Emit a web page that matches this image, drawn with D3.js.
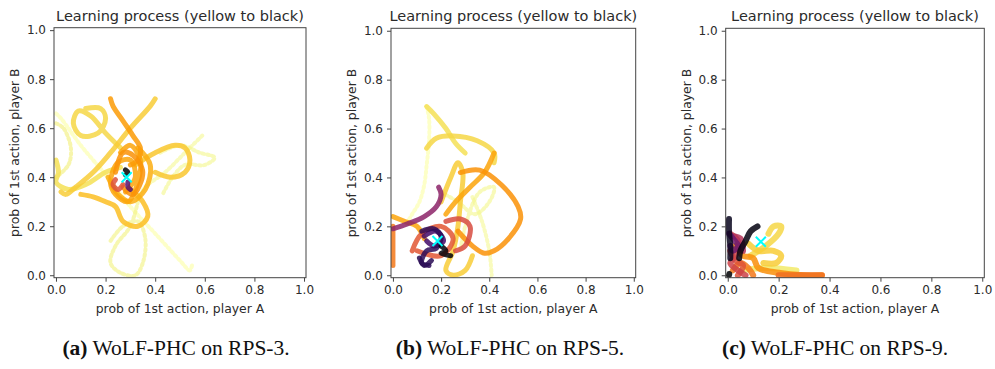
<!DOCTYPE html>
<html>
<head>
<meta charset="utf-8">
<script src="https://cdn.jsdelivr.net/npm/d3@7"></script>
<style>
  body { margin: 0; background: #fff; }
  svg { display: block; }
</style>
</head>
<body>
<svg id="fig" width="995" height="369"></svg>
<script>
// tick values shared by all panels
var tickValues = [0, 0.2, 0.4, 0.6, 0.8, 1.0];
var titles = ["Learning process (yellow to black)", "Learning process (yellow to black)", "Learning process (yellow to black)"];
var captionTags = ["(a)", "(b)", "(c)"];
var captionTexts = [" WoLF-PHC on RPS-3.", " WoLF-PHC on RPS-5.", " WoLF-PHC on RPS-9."];

// trajectories: each strand is a list of [probA, probB],
// stage is 0 at the start of learning (yellow) and 1 at the end (black)
var rps3Strands = [
  [[0.0, 0.66], [0.02, 0.64], [0.1, 0.53], [0.2, 0.41], [0.3, 0.28], [0.4, 0.17], [0.5, 0.06], [0.54, 0.02], [0.55, 0.05]],
  [[0.59, 0.57], [0.52, 0.5], [0.44, 0.42], [0.36, 0.36], [0.33, 0.31]],
  [[0.42, 0.5], [0.5, 0.53], [0.58, 0.5], [0.64, 0.48], [0.6, 0.45], [0.52, 0.45], [0.47, 0.4], [0.43, 0.33]],
  [[0.33, 0.3], [0.3, 0.2], [0.24, 0.12], [0.22, 0.05], [0.26, 0.01], [0.32, 0.0], [0.35, 0.05], [0.36, 0.15], [0.33, 0.22], [0.27, 0.2], [0.22, 0.14]],
  [[0.0, 0.62], [0.03, 0.6], [0.06, 0.52], [0.05, 0.45], [0.0, 0.4]],
  [[0.0, 0.47], [0.01, 0.42], [0.0, 0.38], [0.05, 0.35], [0.12, 0.37], [0.2, 0.42], [0.26, 0.44]],
  [[0.26, 0.52], [0.2, 0.58], [0.14, 0.65], [0.09, 0.67], [0.07, 0.62], [0.1, 0.57], [0.17, 0.58], [0.2, 0.64], [0.18, 0.68], [0.12, 0.68]],
  [[0.4, 0.72], [0.38, 0.69], [0.3, 0.6], [0.22, 0.5], [0.15, 0.42], [0.08, 0.36], [0.04, 0.33], [0.02, 0.34]],
  [[0.32, 0.45], [0.4, 0.5], [0.48, 0.53], [0.52, 0.52], [0.54, 0.47], [0.52, 0.42], [0.46, 0.4], [0.4, 0.42]],
  [[0.3, 0.35], [0.35, 0.3], [0.37, 0.24], [0.33, 0.2], [0.27, 0.22], [0.24, 0.28], [0.2, 0.3], [0.15, 0.32], [0.1, 0.33]],
  [[0.21, 0.4], [0.25, 0.33], [0.3, 0.3], [0.36, 0.35], [0.38, 0.45], [0.33, 0.52]],
  [[0.22, 0.72], [0.23, 0.69], [0.27, 0.63], [0.31, 0.57], [0.34, 0.52], [0.33, 0.47], [0.3, 0.45]],
  [[0.26, 0.5], [0.3, 0.53], [0.34, 0.47], [0.33, 0.38], [0.29, 0.3], [0.24, 0.33], [0.22, 0.38], [0.25, 0.46], [0.3, 0.47], [0.32, 0.4], [0.28, 0.34]],
  [[0.24, 0.42], [0.27, 0.5], [0.31, 0.49], [0.35, 0.42], [0.31, 0.33], [0.27, 0.36]],
  [[0.24, 0.39], [0.23, 0.37], [0.25, 0.35], [0.27, 0.37]],
  [[0.29, 0.38], [0.29, 0.36], [0.3, 0.35]],
  [[0.28, 0.41], [0.29, 0.42], [0.28, 0.43]]
];
var rps3Stage = [0.0, 0.02, 0.03, 0.04, 0.05, 0.08, 0.1, 0.12, 0.13, 0.15, 0.18, 0.22, 0.2, 0.24, 0.4, 0.75, 0.99];
var rps3Eq = [0.285, 0.40];

var rps5Strands = [
  [[0.14, 0.69], [0.15, 0.64], [0.15, 0.55], [0.14, 0.45], [0.13, 0.37], [0.11, 0.3], [0.08, 0.25], [0.05, 0.2]],
  [[0.33, 0.32], [0.37, 0.22], [0.4, 0.1], [0.41, 0.0]],
  [[0.2, 0.34], [0.27, 0.3], [0.34, 0.25], [0.4, 0.3], [0.42, 0.36], [0.36, 0.34], [0.3, 0.2], [0.28, 0.1]],
  [[0.14, 0.69], [0.17, 0.66], [0.22, 0.6], [0.26, 0.54], [0.3, 0.5]],
  [[0.14, 0.52], [0.18, 0.56], [0.25, 0.57], [0.35, 0.55], [0.42, 0.5], [0.42, 0.46]],
  [[0.42, 0.5], [0.38, 0.42], [0.32, 0.36], [0.26, 0.3], [0.22, 0.25]],
  [[0.28, 0.42], [0.36, 0.43], [0.45, 0.37], [0.52, 0.28], [0.53, 0.23], [0.48, 0.15], [0.42, 0.1], [0.38, 0.09], [0.33, 0.12], [0.27, 0.18]],
  [[0.2, 0.3], [0.24, 0.4], [0.27, 0.46], [0.29, 0.42], [0.28, 0.3], [0.27, 0.2], [0.25, 0.1], [0.22, 0.02], [0.25, 0.0], [0.3, 0.02], [0.33, 0.08]],
  [[0.0, 0.24], [0.05, 0.22], [0.1, 0.2], [0.13, 0.15]],
  [[0.0, 0.2], [0.0, 0.1], [0.0, 0.04]],
  [[0.1, 0.1], [0.2, 0.08], [0.25, 0.15], [0.2, 0.2], [0.12, 0.17], [0.08, 0.1]],
  [[0.22, 0.22], [0.28, 0.23], [0.32, 0.2], [0.3, 0.12], [0.26, 0.1]],
  [[0.19, 0.36], [0.2, 0.33], [0.18, 0.28], [0.13, 0.24], [0.06, 0.21], [0.0, 0.19]],
  [[0.12, 0.18], [0.17, 0.19], [0.2, 0.16], [0.18, 0.11], [0.14, 0.1], [0.12, 0.05], [0.15, 0.04]],
  [[0.13, 0.16], [0.18, 0.18], [0.21, 0.14], [0.17, 0.12], [0.14, 0.14]],
  [[0.11, 0.07], [0.13, 0.04], [0.16, 0.06]],
  [[0.2, 0.12], [0.22, 0.1], [0.2, 0.09], [0.24, 0.08]]
];
var rps5Stage = [0.0, 0.02, 0.03, 0.08, 0.1, 0.2, 0.24, 0.12, 0.2, 0.3, 0.38, 0.42, 0.62, 0.85, 0.8, 0.86, 0.98];
var rps5Eq = [0.185, 0.14];

var rps9Strands = [
  [[0.05, 0.02], [0.15, 0.03], [0.27, 0.02]],
  [[0.16, 0.17], [0.18, 0.2], [0.21, 0.2], [0.2, 0.17], [0.15, 0.12], [0.09, 0.08]],
  [[0.08, 0.13], [0.12, 0.1], [0.18, 0.1], [0.21, 0.08], [0.19, 0.05], [0.14, 0.05]],
  [[0.03, 0.12], [0.06, 0.08], [0.1, 0.07], [0.12, 0.03], [0.2, 0.01], [0.3, 0.0], [0.37, 0.0]],
  [[0.02, 0.02], [0.05, 0.05], [0.08, 0.03], [0.1, 0.0]],
  [[0.2, 0.0], [0.37, 0.0]],
  [[0.01, 0.1], [0.03, 0.06], [0.06, 0.04], [0.04, 0.0]],
  [[0.01, 0.17], [0.04, 0.14], [0.03, 0.08], [0.01, 0.05], [0.04, 0.02], [0.07, 0.0]],
  [[0.02, 0.16], [0.05, 0.15], [0.06, 0.1]],
  [[0.005, 0.17], [0.02, 0.15], [0.04, 0.12], [0.02, 0.1], [0.01, 0.12]],
  [[0.005, 0.23], [0.005, 0.18], [0.01, 0.12], [0.01, 0.07]],
  [[0.117, 0.2], [0.09, 0.18], [0.07, 0.14], [0.05, 0.1], [0.045, 0.07]],
  [[0.005, 0.0], [0.006, 0.005]]
];
var rps9Stage = [0.06, 0.1, 0.12, 0.25, 0.3, 0.32, 0.4, 0.45, 0.52, 0.7, 0.95, 0.97, 1.0];
var rps9Eq = [0.13, 0.137];

var panels = [
  {strands: rps3Strands, stage: rps3Stage, eq: rps3Eq, left: 54, top: 27.7, right: 306, bottom: 277.7},
  {strands: rps5Strands, stage: rps5Stage, eq: rps5Eq, left: 391, top: 28.3, right: 635.7, bottom: 277.7},
  {strands: rps9Strands, stage: rps9Stage, eq: rps9Eq, left: 725.7, top: 28.3, right: 984.3, bottom: 277.7}
];

var svg = d3.select("#fig");
var fmt = d3.format(".1f");
var font = "'DejaVu Sans', sans-serif";
var ink = "#2b2b2b";

panels.forEach(function (p, i) {
  var x = d3.scaleLinear().domain([-0.008, 1.008]).range([p.left, p.right]);
  var y = d3.scaleLinear().domain([-0.01, 1.01]).range([p.bottom, p.top]);
  var g = svg.append("g");

  // clip trajectories to the axes box
  g.append("clipPath").attr("id", "clip" + i)
    .append("rect")
    .attr("x", p.left).attr("y", p.top)
    .attr("width", p.right - p.left).attr("height", p.bottom - p.top);

  var line = d3.line()
    .x(function (d) { return x(d[0]); })
    .y(function (d) { return y(d[1]); })
    .curve(d3.curveCatmullRom.alpha(0.5));

  var order = d3.range(p.strands.length).sort(function (a, b) { return p.stage[a] - p.stage[b]; });
  var pale = function (k) { return p.stage[k] < 0.06; };

  g.append("g").attr("clip-path", "url(#clip" + i + ")")
    .selectAll("path")
    .data(order)
    .enter().append("path")
    .attr("d", function (k) { return line(p.strands[k]); })
    .attr("fill", "none")
    .attr("stroke", function (k) { return d3.interpolateInferno(1 - p.stage[k] * 0.999); })
    .attr("stroke-opacity", function (k) { return pale(k) ? 0.6 : 0.85; })
    .attr("stroke-width", function (k) { return pale(k) ? 4 : (i === 2 ? 6 : 5); })
    .attr("stroke-dasharray", function (k) { return pale(k) ? "2,3" : null; })
    .attr("stroke-linecap", "round")
    .attr("stroke-linejoin", "round");

  // cyan x marker at the equilibrium
  var cx = x(p.eq[0]), cy = y(p.eq[1]), s = 5;
  g.append("path")
    .attr("d", "M" + (cx - s) + "," + (cy - s) + "L" + (cx + s) + "," + (cy + s) +
               "M" + (cx - s) + "," + (cy + s) + "L" + (cx + s) + "," + (cy - s))
    .attr("stroke", "#00ffff").attr("stroke-width", 2);

  // axes
  var ax = g.append("g")
    .attr("transform", "translate(0," + p.bottom + ")")
    .call(d3.axisBottom(x).tickValues(tickValues).tickFormat(fmt).tickSize(4).tickPadding(4));
  var ay = g.append("g")
    .attr("transform", "translate(" + p.left + ",0)")
    .call(d3.axisLeft(y).tickValues(tickValues).tickFormat(fmt).tickSize(4).tickPadding(4));
  [ax, ay].forEach(function (a) {
    a.select(".domain").remove();
    a.selectAll("line").attr("stroke", "#444");
    a.selectAll("text").attr("fill", ink).style("font-family", font).style("font-size", "12px");
  });

  g.append("rect")
    .attr("x", p.left).attr("y", p.top)
    .attr("width", p.right - p.left).attr("height", p.bottom - p.top)
    .attr("fill", "none").attr("stroke", "#444").attr("stroke-width", 1);

  var mid = (p.left + p.right) / 2;
  g.append("text")
    .attr("x", mid).attr("y", 20.5)
    .attr("text-anchor", "middle")
    .attr("fill", ink)
    .style("font-family", font).style("font-size", "14.5px")
    .text(titles[i]);

  g.append("text")
    .attr("x", mid).attr("y", 313)
    .attr("text-anchor", "middle")
    .attr("fill", ink)
    .style("font-family", font).style("font-size", "12.4px")
    .text("prob of 1st action, player A");

  g.append("text")
    .attr("transform", "translate(" + (p.left - 35) + "," + ((p.top + p.bottom) / 2) + ") rotate(-90)")
    .attr("text-anchor", "middle")
    .attr("fill", ink)
    .style("font-family", font).style("font-size", "12.4px")
    .text("prob of 1st action, player B");

  // caption under the panel
  var cap = svg.append("text")
    .attr("x", [176, 510, 835][i]).attr("y", 355)
    .attr("text-anchor", "middle")
    .attr("fill", "#111")
    .style("font-family", "'Liberation Serif', serif").style("font-size", "21.5px");
  cap.append("tspan").attr("font-weight", "bold").text(captionTags[i]);
  cap.append("tspan").text(captionTexts[i]);
});
</script>
</body>
</html>
